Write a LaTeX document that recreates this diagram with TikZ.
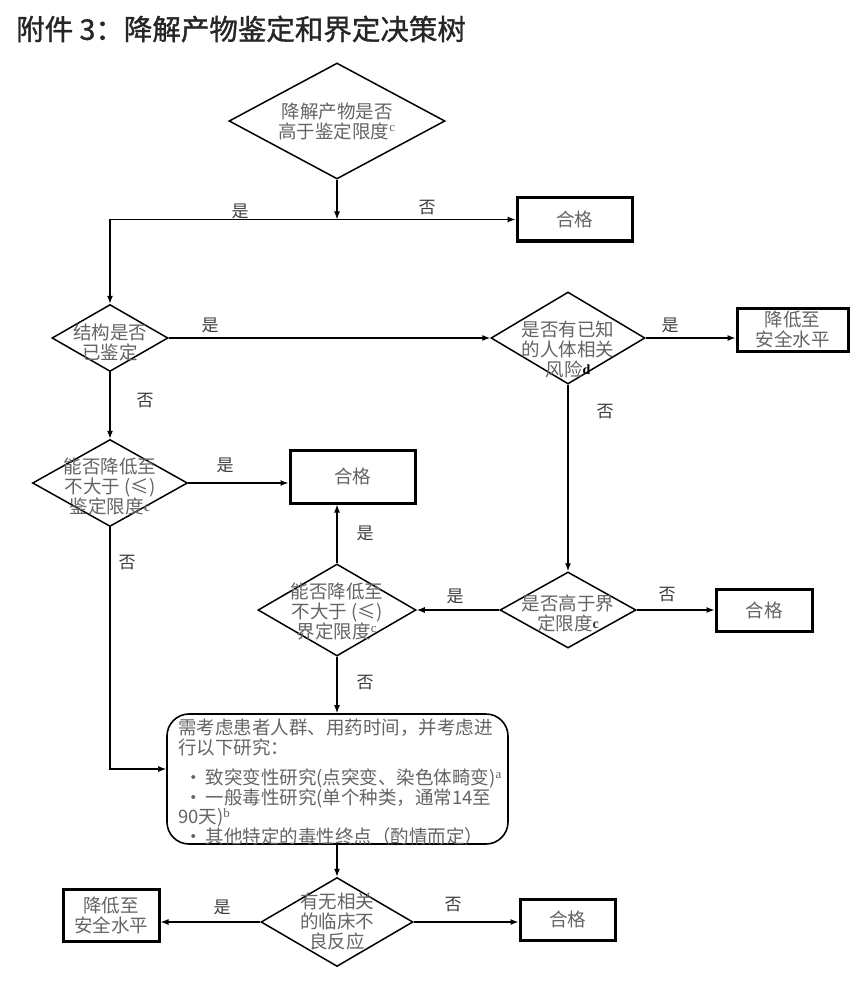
\documentclass[tikz,border=0pt]{standalone}
\usepackage{fontspec}
\setmainfont{Noto Sans CJK SC}
\newfontfamily\serifl{Liberation Serif}
\newfontfamily\titlefont[FakeBold=1.2]{Noto Sans CJK SC}
\usetikzlibrary{shapes.geometric,arrows.meta}
\definecolor{txtgray}{RGB}{100,100,100}
\definecolor{labgray}{RGB}{60,60,60}
\newcommand\dtfont{\fontsize{18.5}{20}\selectfont}
\newcommand\lbfont{\fontsize{17}{17}\selectfont}
\newcommand\supsm[1]{\textsuperscript{\serifl #1}}
\newcommand\supbd[1]{\raisebox{2pt}{\serifl\bfseries\fontsize{14}{14}\selectfont #1}}
\begin{document}
\begin{tikzpicture}[x=1pt,y=-1pt,
  dia/.style={diamond, draw=black, line width=1.5pt, inner sep=0pt},
  bx/.style={draw=black, line width=3pt, inner sep=0pt, align=center, text=txtgray, font=\dtfont},
  dtxt/.style={align=center, text=txtgray, font=\dtfont, inner sep=0pt},
  lab/.style={text=labgray, font=\lbfont, inner sep=0pt},
  conn/.style={line width=1.3pt},
  arr/.style={conn, -{Latex[length=8pt,width=6pt]}}
]
\fill[white] (0,0) rectangle (860,984);
\useasboundingbox (0,0) rectangle (860,984);

% title
\node[anchor=west, inner sep=0pt, font=\titlefont\fontsize{28.5}{28.5}\selectfont, text=black!85] (title) at (16,29) {附件 3：降解产物鉴定和界定决策树};

% diamonds
\node[dia, minimum width=216pt, minimum height=116pt] (d1) at (337,121) {};
\node[dtxt] (t1) at (337,121) {降解产物是否\\高于鉴定限度\supsm{c}};
\node[dia, minimum width=116pt, minimum height=67pt] (d2) at (110,338) {};
\node[dtxt] (t2) at (110,342) {结构是否\\已鉴定};
\node[dia, minimum width=154pt, minimum height=92pt] (d3) at (568,338) {};
\node[dtxt] (t3) at (568,349) {是否有已知\\的人体相关\\风险\supbd{\textcolor{black}{d}}};
\node[dia, minimum width=155pt, minimum height=87pt] (d4) at (110,483) {};
\node[dtxt] (t4) at (110,486) {能否降低至\\不大于 (≤)\\鉴定限度\supbd{c}};
\node[dia, minimum width=136pt, minimum height=76pt] (d5) at (568,610) {};
\node[dtxt] (t5) at (568,613) {是否高于界\\定限度\supbd{\textcolor{black!80}{c}}};
\node[dia, minimum width=158pt, minimum height=92pt] (d6) at (337,610) {};
\node[dtxt] (t6) at (337,612) {能否降低至\\不大于 (≤)\\界定限度\supsm{c}};
\node[dia, minimum width=152pt, minimum height=89pt] (d7) at (337,922) {};
\node[dtxt] (t7) at (337,922) {有无相关\\的临床不\\良反应};

% boxes
\node[bx, minimum width=115pt, minimum height=43pt] (b1) at (574.5,219.5) {合格};
\node[bx, minimum width=111pt, minimum height=43pt] (b2) at (792.5,329.5) {降低至\\安全水平};
\node[bx, minimum width=125pt, minimum height=53pt] (b3) at (352.5,476.5) {合格};
\node[bx, minimum width=96pt, minimum height=42pt] (b4) at (764,610) {合格};
\node[bx, minimum width=96pt, minimum height=52pt] (b5) at (111,915) {降低至\\安全水平};
\node[bx, minimum width=95pt, minimum height=41pt] (b6) at (567.5,919.5) {合格};

% rounded box
\node[draw=black, line width=1.6pt, rounded corners=22pt, minimum width=341pt, minimum height=130pt, inner sep=0pt] (r) at (337.5,779) {};
\node[anchor=north west, align=left, inner sep=0pt, text=txtgray, font=\fontsize{18.5}{19.5}\selectfont] (rt) at (178,719) {需考虑患者人群、用药时间，并考虑进\\行以下研究：\\[11pt]
\hspace{6pt}·\hspace{3pt}致突变性研究(点突变、染色体畸变)\supsm{a}\\
\hspace{6pt}·\hspace{3pt}一般毒性研究(单个种类，通常14至\\
90天)\supsm{b}\\
\hspace{6pt}·\hspace{3pt}其他特定的毒性终点（酌情而定）};

% connectors
\coordinate (j1) at (337,219.5);
\coordinate (j2) at (110,219.5);
\draw[arr] (d1.south) -- (j1);
\draw[arr] (j2) -- (b1.west);
\draw[arr] (j2) -- (d2.north);
\draw[arr] (d2.east) -- (d3.west);
\draw[arr] (d3.east) -- (d3.east -| b2.west);
\draw[arr] (d3.south) -- (d5.north);
\draw[arr] (d2.south) -- (d4.north);
\draw[arr] (d4.east) -- (d4.east -| b3.west);
\coordinate (j3) at (110,769);
\draw[arr] (d4.south) -- (j3) -- (j3 -| r.west);
\draw[arr] (d5.west) -- (d6.east);
\draw[arr] (d5.east) -- (d5.east -| b4.west);
\draw[arr] (d6.north) -- (d6.north |- b3.south);
\draw[arr] (d6.south) -- (d6.south |- r.north);
\draw[arr] (d7.north |- r.south) -- (d7.north);
\draw[arr] (d7.west) -- (d7.west -| b5.east);
\draw[arr] (d7.east) -- (d7.east -| b6.west);

% labels
\node[lab] (l1) at (240,211) {是};
\node[lab] (l2) at (427,208) {否};
\node[lab] (l3) at (210,325) {是};
\node[lab] (l4) at (670,325) {是};
\node[lab] (l5) at (145,401) {否};
\node[lab] (l6) at (605,412) {否};
\node[lab] (l7) at (225,465) {是};
\node[lab] (l8) at (127,563) {否};
\node[lab] (l9) at (455,596) {是};
\node[lab] (l10) at (667,595) {否};
\node[lab] (l11) at (365,533) {是};
\node[lab] (l12) at (365,683) {否};
\node[lab] (l13) at (222,907) {是};
\node[lab] (l14) at (453,905) {否};
\end{tikzpicture}
\end{document}
